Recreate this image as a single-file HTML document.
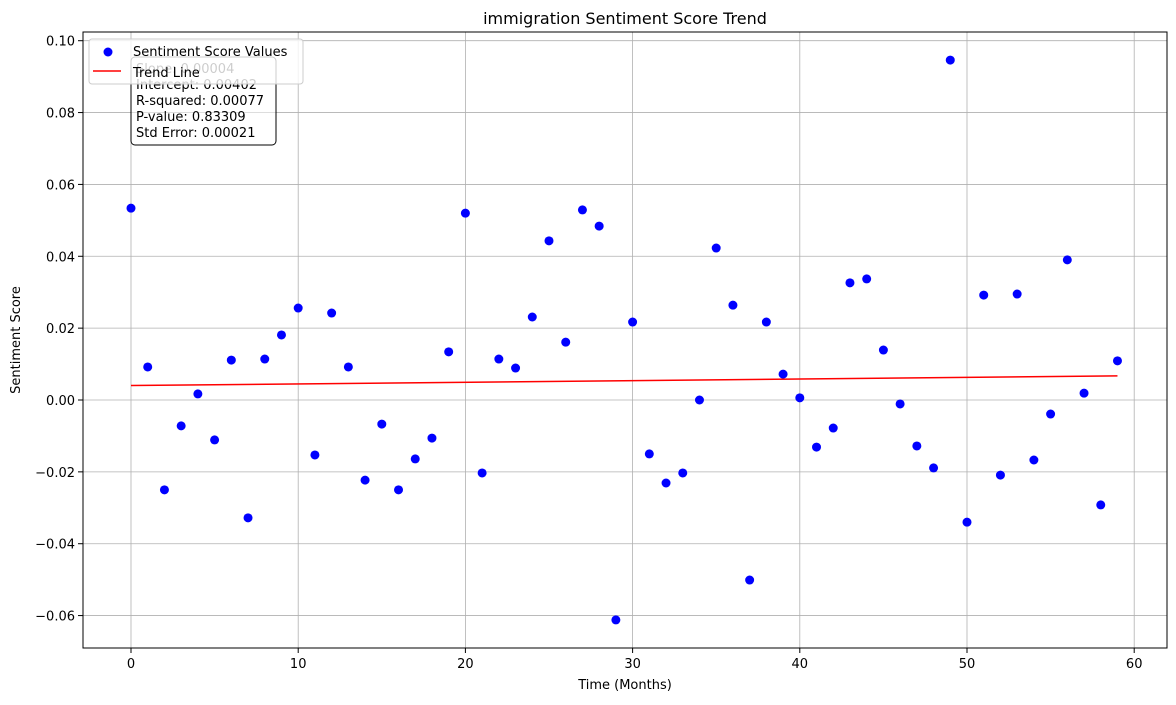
<!DOCTYPE html>
<html><head><meta charset="utf-8"><style>
body{margin:0;background:#fff;font-family:"DejaVu Sans","Liberation Sans",sans-serif;}
svg text{font-family:"DejaVu Sans","Liberation Sans",sans-serif;}
</style></head><body>
<svg id="chart" width="1176" height="701" xmlns="http://www.w3.org/2000/svg">
<g id="grid"></g><g id="axes"></g><g id="marks"></g>
</svg>
<script>
const months = Array.from({length:60},(_,i)=>i);
const scores = [0.0534,0.0092,-0.025,-0.0072,0.0017,-0.0111,0.0111,-0.0328,0.0114,0.0181,0.0256,-0.0153,0.0242,0.0092,-0.0223,-0.0067,-0.025,-0.0164,-0.0106,0.0134,0.052,-0.0203,0.0114,0.0089,0.0231,0.0443,0.0161,0.0529,0.0484,-0.0612,0.0217,-0.015,-0.0231,-0.0203,0.0,0.0423,0.0264,-0.0501,0.0217,0.0072,0.0006,-0.0131,-0.0078,0.0326,0.0337,0.0139,-0.0011,-0.0128,-0.0189,0.0946,-0.034,0.0292,-0.0209,0.0295,-0.0167,-0.0039,0.039,0.0019,-0.0292,0.0109];
const trendIntercept = 0.00402;
const trendSlope = 0.0000455;
const xTicks = [0,10,20,30,40,50,60];
const yTicks = [-0.06,-0.04,-0.02,0.00,0.02,0.04,0.06,0.08,0.10];
const statsLines = ["Slope: 0.00004","Intercept: 0.00402","R-squared: 0.00077","P-value: 0.83309","Std Error: 0.00021"];

const L=83,R=1167,T=32,B=648;
const xs=v=>131+v*16.72;
const ys=v=>400-v*3593;
const NS="http://www.w3.org/2000/svg";
function mk(tag,attrs,parent,text){const e=document.createElementNS(NS,tag);for(const k in attrs)e.setAttribute(k,attrs[k]);if(text!==undefined)e.textContent=text;parent.appendChild(e);return e;}
const grid=document.getElementById('grid'),axes=document.getElementById('axes'),marks=document.getElementById('marks'),svg=document.getElementById('chart');

xTicks.forEach(t=>{
  const g=mk('line',{x1:xs(t),x2:xs(t),y1:T,y2:B,stroke:'#b0b0b0','stroke-width':0.8},grid);
  
  
  mk('line',{x1:xs(t),x2:xs(t),y1:B,y2:B+5,stroke:'#000'},axes);
  const l=mk('text',{x:xs(t),y:B+20,'text-anchor':'middle','font-size':13},axes,String(t));
  
  
});
yTicks.forEach(t=>{
  const g=mk('line',{x1:L,x2:R,y1:ys(t),y2:ys(t),stroke:'#b0b0b0','stroke-width':0.8},grid);
  
  
  mk('line',{x1:L-5,x2:L,y1:ys(t),y2:ys(t),stroke:'#000'},axes);
  const l=mk('text',{x:L-8,y:ys(t)+5,'text-anchor':'end','font-size':13},axes,(t<0?'\u2212':'')+Math.abs(t).toFixed(2));
  
  
});
const frame=mk('rect',{x:L,y:T,width:R-L,height:B-T,fill:'none',stroke:'#000','stroke-width':1},axes);


const title=mk('text',{x:(L+R)/2,y:24,'text-anchor':'middle','font-size':16},axes,'immigration Sentiment Score Trend');


const xt=mk('text',{x:(L+R)/2,y:689,'text-anchor':'middle','font-size':13},axes,'Time (Months)');


const yt=mk('text',{x:20,y:(T+B)/2,'text-anchor':'middle','font-size':13,transform:`rotate(-90 20 ${(T+B)/2})`},axes,'Sentiment Score');



scores.forEach((v,i)=>{
  const c=mk('circle',{cx:xs(months[i]),cy:ys(v),r:4.5,fill:'#0000ff'},marks);
  
  
});
const x0=months[0],x1=months[months.length-1];
const tl=mk('line',{x1:xs(x0),y1:ys(trendIntercept+trendSlope*x0),x2:xs(x1),y2:ys(trendIntercept+trendSlope*x1),stroke:'#ff0000','stroke-width':1.5},marks);



// stats box
const sb=mk('g',{},svg);


mk('rect',{x:131,y:57,width:145,height:88,rx:4,fill:'#fff','fill-opacity':0.5,stroke:'#000'},sb);
statsLines.forEach((s,i)=>mk('text',{x:136,y:73+i*16,'font-size':13},sb,s));

// legend (drawn on top)
const lg=mk('g',{},svg);


mk('rect',{x:89,y:39,width:214,height:45,rx:3,fill:'#fff','fill-opacity':0.8,stroke:'#ccc'},lg);
mk('circle',{cx:108,cy:52,r:4.5,fill:'#0000ff'},lg);
mk('text',{x:133,y:56,'font-size':13},lg,'Sentiment Score Values');
mk('line',{x1:93,x2:121,y1:71,y2:71,stroke:'#ff0000','stroke-width':1.5},lg);
mk('text',{x:133,y:77,'font-size':13},lg,'Trend Line');
</script>
</body></html>
